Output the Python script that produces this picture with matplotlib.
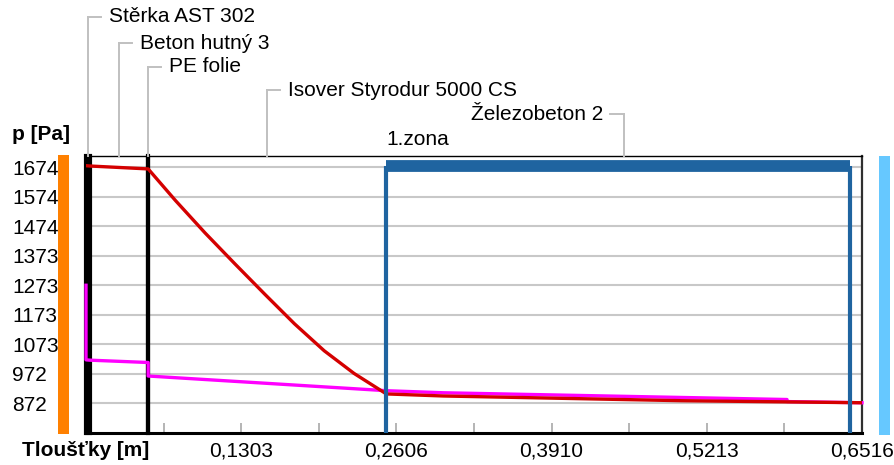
import matplotlib
matplotlib.use("Agg")
import matplotlib.pyplot as plt
from matplotlib.patches import Rectangle
from matplotlib.lines import Line2D

plt.rcParams['font.family'] = ['Liberation Sans Narrow', 'Liberation Sans', 'DejaVu Sans']

# construction layers (outer to inner) and thicknesses in metres
layer_names = ["Stěrka AST 302", "Beton hutný 3", "PE folie",
               "Isover Styrodur 5000 CS", "Železobeton 2"]
layer_thickness = [0.003, 0.049, 0.0002, 0.2, 0.3994]

# saturated vapour pressure through the section
sat_x = [0.0, 0.003, 0.0522, 0.075, 0.100, 0.125, 0.150, 0.175, 0.200, 0.225,
         0.2522, 0.30, 0.40, 0.50, 0.6516]
sat_p = [1680, 1679, 1669, 1562, 1451, 1346, 1243, 1142, 1050, 973,
         903, 896, 888, 880, 873]

# partial vapour pressure through the section
vap_x = [0.0, 0.0, 0.003, 0.0522, 0.0522, 0.2522, 0.30, 0.40, 0.50, 0.5886, 0.5886, 0.6516]
vap_p = [1273, 1019, 1018, 1010, 964, 914, 907, 899, 891, 884, 877, 873]

# condensation zone
zone_label = "1.zona"
zone_start = 0.2522
zone_end = 0.6415
zone_level = 1679

y_ticks = [872, 972.25, 1072.5, 1172.75, 1273, 1373.25, 1473.5, 1573.75, 1674]
y_labels = ["872", "972", "1073", "1173", "1273", "1373", "1474", "1574", "1674"]
x_ticks = [0.13032, 0.26064, 0.39096, 0.52128, 0.6516]
x_labels = ["0,1303", "0,2606", "0,3910", "0,5213", "0,6516"]
x_minor = [0.06516, 0.19548, 0.3258, 0.45612, 0.58644]

W, H = 894, 465
fig = plt.figure(figsize=(W / 100, H / 100), dpi=100)
fig.patch.set_facecolor("white")
ax = fig.add_axes([86 / W, 1 - 433 / H, 776 / W, 277 / H])
ax.set_xlim(0, 0.6516)
ax.set_ylim(770, 1713)

FS = 15

# grid and frame
ax.set_yticks(y_ticks)
ax.set_yticklabels(y_labels, fontsize=FS)
for lab in ax.get_yticklabels():
    lab.set_ha("left")
ax.tick_params(axis="y", length=0, pad=53)
ax.yaxis.grid(True, color="#c8c8c8", lw=1.5, zorder=0)
ax.set_axisbelow(True)

ax.set_xticks(x_ticks)
ax.set_xticklabels(x_labels, fontsize=FS)
ax.set_xticks(x_minor, minor=True)
ax.tick_params(axis="x", which="both", direction="in", length=7,
               width=1.2, color="#a8a8a8", pad=6)

ax.spines["bottom"].set_linewidth(2.2)
ax.spines["bottom"].set_color("black")
ax.spines["top"].set_linewidth(1.0)
ax.spines["top"].set_color("black")
ax.spines["right"].set_linewidth(1.6)
ax.spines["right"].set_color("#303030")
ax.spines["left"].set_visible(False)

# layer boundaries
bounds = [0.0]
for t in layer_thickness:
    bounds.append(bounds[-1] + t)
for b in bounds[:3]:
    ax.axvline(b, color="black", lw=3, zorder=3, clip_on=False)
ax.axvline(bounds[3], color="black", lw=3, zorder=3)

# curves
ax.plot(vap_x, vap_p, color="#ff00ff", lw=2.4, zorder=4, clip_on=False)
ax.plot(sat_x, sat_p, color="#d40000", lw=2.4, zorder=5)

# condensation zone
zc = "#1f64a0"
ax.vlines([zone_start, zone_end], 770, zone_level, color=zc, lw=3, zorder=6)
ax.hlines(zone_level, zone_start, zone_end, color=zc, lw=8.5, zorder=6)

# pixel helpers
def xpx(x):
    return ax.transData.transform((x, 0))[0]

def fx(px):
    return px / W

def fy(py):
    return 1 - py / H

ax.text(zone_start, 1.025, zone_label, transform=ax.get_xaxis_transform(),
        fontsize=FS, ha="left", va="bottom")

# layer name leaders
leader_rows = [17, 43, 67, 90, 114]
leader_side = ["r", "r", "r", "r", "l"]
lc = "#c0c0c0"
for i, name in enumerate(layer_names):
    xc = xpx(bounds[i] + layer_thickness[i] / 2)
    if i == 0:
        xc = 88
    row = leader_rows[i]
    fig.add_artist(Line2D([fx(xc), fx(xc)], [fy(156), fy(row)], color=lc, lw=1.4))
    if leader_side[i] == "r":
        fig.add_artist(Line2D([fx(xc), fx(xc + 13)], [fy(row), fy(row)], color=lc, lw=1.4))
        fig.text(fx(xc + 21), fy(row), name, fontsize=FS, ha="left", va="center")
    else:
        fig.add_artist(Line2D([fx(xc - 14), fx(xc)], [fy(row), fy(row)], color=lc, lw=1.4))
        fig.text(fx(xc - 21), fy(row), name, fontsize=FS, ha="right", va="center")

# axis titles
fig.text(fx(12), fy(134), "p [Pa]", fontsize=FS, fontweight="bold", ha="left", va="center")
fig.text(fx(22), fy(450), "Tloušťky [m]", fontsize=FS, fontweight="bold", ha="left", va="center")

# side colour bars
fig.add_artist(Rectangle((fx(58), fy(434)), 11 / W, 279 / H, color="#ff8000", lw=0))
fig.add_artist(Rectangle((fx(879), fy(435)), 11 / W, 279 / H, color="#66c8ff", lw=0))

fig.savefig("out.png", dpi=100, facecolor="white")
